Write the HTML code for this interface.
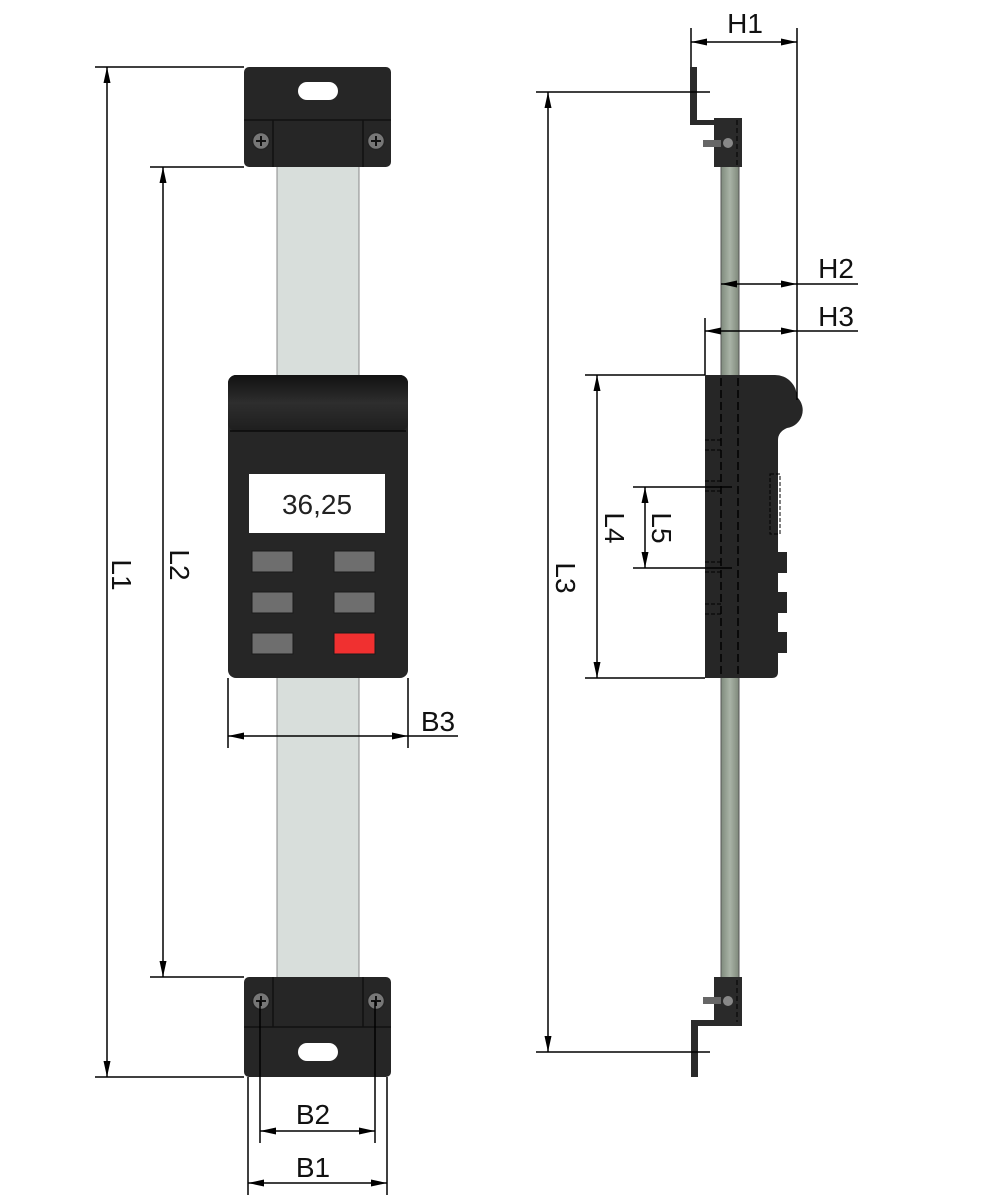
<!DOCTYPE html>
<html><head><meta charset="utf-8"><style>
html,body{margin:0;padding:0;background:#fff;}
svg{display:block;}
text{font-family:"Liberation Sans",sans-serif;font-size:28px;fill:#111;}
</style></head><body>
<svg width="1000" height="1200" viewBox="0 0 1000 1200" xmlns="http://www.w3.org/2000/svg">
<defs>
<marker id="a" viewBox="0 0 16 7" refX="16" refY="3.5" markerWidth="16" markerHeight="7" orient="auto-start-reverse" markerUnits="userSpaceOnUse"><path d="M0,0 L16,3.5 L0,7 z" fill="#000"/></marker>
<linearGradient id="tape" x1="0" x2="1"><stop offset="0" stop-color="#7e8a7c"/><stop offset="0.5" stop-color="#a9b3a6"/><stop offset="1" stop-color="#7e887a"/></linearGradient>
<linearGradient id="cap" x1="0" y1="0" x2="0" y2="1"><stop offset="0" stop-color="#111"/><stop offset="0.5" stop-color="#2e2e2e"/><stop offset="1" stop-color="#1e1e1e"/></linearGradient>
<g id="screw"><circle r="8.5" fill="#777" stroke="#222" stroke-width="1.5"/><path d="M-5,0H5M0,-5V5" stroke="#111" stroke-width="2"/></g>
</defs>

<!-- LEFT VIEW -->
<rect x="277" y="160" width="82" height="825" fill="#d8dedb" stroke="#888" stroke-width="1"/>
<rect x="244" y="67" width="147" height="100" rx="5" fill="#262626"/>
<line x1="244" y1="120" x2="391" y2="120" stroke="#111" stroke-width="1.5"/>
<line x1="273" y1="120" x2="273" y2="167" stroke="#111" stroke-width="1.5"/>
<line x1="363" y1="120" x2="363" y2="167" stroke="#111" stroke-width="1.5"/>
<rect x="298" y="82" width="40" height="18" rx="9" fill="#fff"/>
<use href="#screw" x="261" y="141"/><use href="#screw" x="376" y="141"/>
<rect x="244" y="977" width="147" height="100" rx="5" fill="#262626"/>
<line x1="244" y1="1027" x2="391" y2="1027" stroke="#111" stroke-width="1.5"/>
<line x1="273" y1="977" x2="273" y2="1027" stroke="#111" stroke-width="1.5"/>
<line x1="363" y1="977" x2="363" y2="1027" stroke="#111" stroke-width="1.5"/>
<rect x="298" y="1043" width="40" height="18" rx="9" fill="#fff"/>
<use href="#screw" x="261" y="1001"/><use href="#screw" x="376" y="1001"/>
<rect x="228" y="375" width="180" height="303" rx="8" fill="#262626"/>
<rect x="228" y="375" width="180" height="56" rx="8" fill="url(#cap)"/>
<line x1="230" y1="431" x2="406" y2="431" stroke="#0a0a0a" stroke-width="1.5"/>
<rect x="249" y="474" width="136" height="59" fill="#fff"/>
<text x="317" y="514" text-anchor="middle" style="font-size:28px;fill:#222">36,25</text>
<g fill="#6e6e6e" stroke="#1a1a1a" stroke-width="1">
<rect x="252" y="551" width="41" height="21"/><rect x="334" y="551" width="41" height="21"/>
<rect x="252" y="592" width="41" height="21"/><rect x="334" y="592" width="41" height="21"/>
<rect x="252" y="633" width="41" height="21"/>
</g>
<rect x="334" y="633" width="41" height="21" fill="#f03030" stroke="#1a1a1a"/>

<g stroke="#000" stroke-width="1.5" fill="none">
<line x1="95" y1="67" x2="244" y2="67"/><line x1="95" y1="1077" x2="244" y2="1077"/>
<line x1="107" y1="67" x2="107" y2="1077" marker-start="url(#a)" marker-end="url(#a)"/>
<line x1="150" y1="167" x2="244" y2="167"/><line x1="150" y1="977" x2="244" y2="977"/>
<line x1="163" y1="167" x2="163" y2="977" marker-start="url(#a)" marker-end="url(#a)"/>
<line x1="228" y1="678" x2="228" y2="748"/><line x1="408" y1="678" x2="408" y2="748"/>
<line x1="228" y1="736" x2="408" y2="736" marker-start="url(#a)" marker-end="url(#a)"/>
<line x1="408" y1="736" x2="458" y2="736"/>
<line x1="260" y1="1001" x2="260" y2="1143"/><line x1="375" y1="1001" x2="375" y2="1143"/>
<line x1="260" y1="1131" x2="375" y2="1131" marker-start="url(#a)" marker-end="url(#a)"/>
<line x1="248" y1="1077" x2="248" y2="1195"/><line x1="387" y1="1077" x2="387" y2="1195"/>
<line x1="248" y1="1183" x2="387" y2="1183" marker-start="url(#a)" marker-end="url(#a)"/>
</g>
<text transform="translate(112,575) rotate(90)" text-anchor="middle">L1</text>
<text transform="translate(170,565) rotate(90)" text-anchor="middle">L2</text>
<text x="438" y="731" text-anchor="middle">B3</text>
<text x="313" y="1124" text-anchor="middle">B2</text>
<text x="313" y="1177" text-anchor="middle">B1</text>

<!-- RIGHT VIEW -->
<rect x="721" y="160" width="18" height="825" fill="url(#tape)" stroke="#555" stroke-width="1"/>
<path d="M690,67 H697 V120 H714 V118 H742 V167 H714 V125 H690 Z" fill="#2a2a2a"/>
<rect x="703" y="140" width="18" height="7" fill="#666"/>
<circle cx="728" cy="143" r="5" fill="#888"/>
<line x1="737" y1="120" x2="737" y2="165" stroke="#000" stroke-dasharray="5,3"/>
<path d="M714,977 H742 V1026 H698 V1077 H691 V1020 H714 Z" fill="#2a2a2a"/>
<rect x="703" y="997" width="18" height="7" fill="#666"/>
<circle cx="728" cy="1001" r="5" fill="#888"/>
<line x1="737" y1="980" x2="737" y2="1022" stroke="#000" stroke-dasharray="5,3"/>
<path d="M705,375 H775 A22,22 0 0 1 797,397 A18,18 0 0 1 787,428 Q778,432 778,440 V672 Q778,678 772,678 H705 Z" fill="#262626"/>
<g stroke="#000" stroke-width="1.5" stroke-dasharray="8,4">
<line x1="721" y1="378" x2="721" y2="676"/><line x1="738" y1="378" x2="738" y2="676"/>
</g>
<g stroke="#000" stroke-width="1" stroke-dasharray="4,2">
<line x1="705" y1="440" x2="721" y2="440"/><line x1="705" y1="450" x2="721" y2="450"/>
<line x1="705" y1="481" x2="721" y2="481"/><line x1="705" y1="491" x2="721" y2="491"/>
<line x1="705" y1="562" x2="721" y2="562"/><line x1="705" y1="572" x2="721" y2="572"/>
<line x1="705" y1="604" x2="721" y2="604"/><line x1="705" y1="614" x2="721" y2="614"/>
<rect x="770" y="474" width="10" height="60" fill="none"/>
</g>
<g fill="#262626">
<rect x="778" y="552" width="9" height="21"/><rect x="778" y="592" width="9" height="21"/><rect x="778" y="632" width="9" height="21"/>
</g>

<g stroke="#000" stroke-width="1.5" fill="none">
<line x1="691" y1="28" x2="691" y2="67"/><line x1="797" y1="28" x2="797" y2="400"/>
<line x1="691" y1="42" x2="797" y2="42" marker-start="url(#a)" marker-end="url(#a)"/>
<line x1="721" y1="284" x2="797" y2="284" marker-start="url(#a)" marker-end="url(#a)"/>
<line x1="797" y1="284" x2="858" y2="284"/>
<line x1="705" y1="318" x2="705" y2="375"/>
<line x1="705" y1="331" x2="797" y2="331" marker-start="url(#a)" marker-end="url(#a)"/>
<line x1="797" y1="331" x2="858" y2="331"/>
<line x1="536" y1="92" x2="710" y2="92"/><line x1="536" y1="1052" x2="710" y2="1052"/>
<line x1="548" y1="92" x2="548" y2="1052" marker-start="url(#a)" marker-end="url(#a)"/>
<line x1="585" y1="375" x2="705" y2="375"/><line x1="585" y1="678" x2="705" y2="678"/>
<line x1="597" y1="375" x2="597" y2="678" marker-start="url(#a)" marker-end="url(#a)"/>
<line x1="633" y1="487" x2="732" y2="487"/><line x1="633" y1="568" x2="732" y2="568"/>
<line x1="645" y1="487" x2="645" y2="568" marker-start="url(#a)" marker-end="url(#a)"/>
</g>
<text x="745" y="33" text-anchor="middle">H1</text>
<text x="836" y="278" text-anchor="middle">H2</text>
<text x="836" y="326" text-anchor="middle">H3</text>
<text transform="translate(556,578) rotate(90)" text-anchor="middle">L3</text>
<text transform="translate(605,528) rotate(90)" text-anchor="middle">L4</text>
<text transform="translate(652,528) rotate(90)" text-anchor="middle">L5</text>
</svg>
</body></html>
